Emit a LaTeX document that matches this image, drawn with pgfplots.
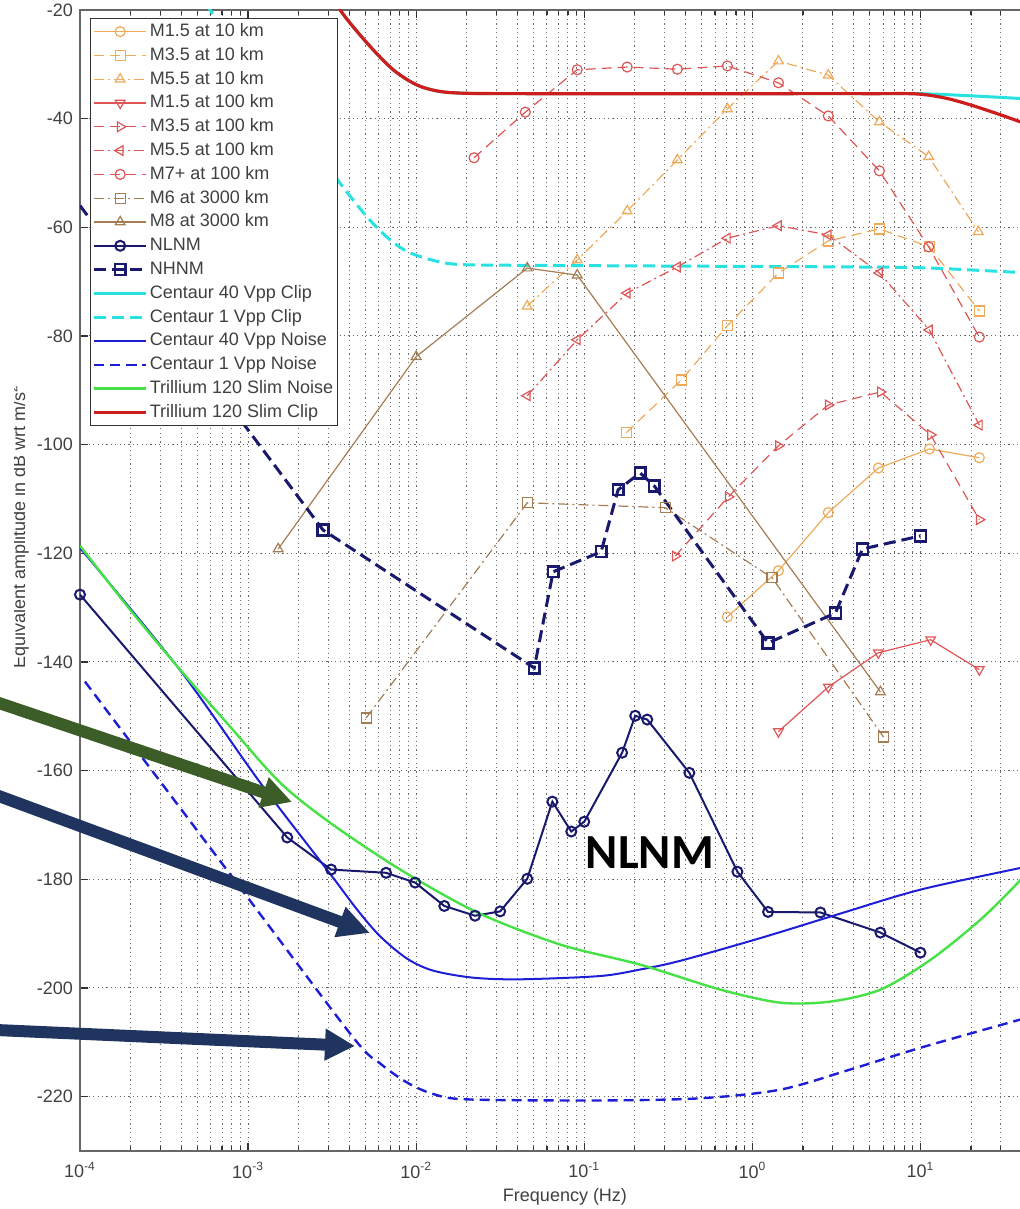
\documentclass[border=0pt]{standalone}
\usepackage{pgfplots}
\pgfplotsset{compat=1.18}
\usetikzlibrary{arrows.meta}
\usepackage{fontspec}
\setmainfont{Liberation Sans}
\newfontfamily\calibri{Carlito}
\definecolor{orng}{RGB}{238,170,90}
\definecolor{rd}{RGB}{222,85,85}
\definecolor{brn}{RGB}{165,125,85}
\definecolor{navy}{RGB}{25,25,110}
\definecolor{cyn}{RGB}{40,225,225}
\definecolor{blu}{RGB}{30,30,215}
\definecolor{grn}{RGB}{70,225,70}
\definecolor{rdclip}{RGB}{205,30,30}
\definecolor{arrgreen}{RGB}{60,92,40}
\definecolor{arrnavy}{RGB}{31,52,95}
\begin{document}
\begin{tikzpicture}
\clip (0,0) rectangle (510pt,604.5pt);
\begin{axis}[
  at={(40pt,29pt)}, anchor=south west,
  scale only axis, width=485pt, height=570.5pt,
  xmode=log, xmin=1e-4, xmax=59, ymin=-230, ymax=-20,
  xtick={1e-4,1e-3,1e-2,1e-1,1,10},
  xticklabels={10\textsuperscript{-4},10\textsuperscript{-3},10\textsuperscript{-2},10\textsuperscript{-1},10\textsuperscript{0},10\textsuperscript{1}},
  minor xtick={2e-4,3e-4,4e-4,5e-4,6e-4,7e-4,8e-4,9e-4,2e-3,3e-3,4e-3,5e-3,6e-3,7e-3,8e-3,9e-3,0.02,0.03,0.04,0.05,0.06,0.07,0.08,0.09,0.2,0.3,0.4,0.5,0.6,0.7,0.8,0.9,2,3,4,5,6,7,8,9,20,30,40,50},
  ytick={-220,-200,...,-20},
  yticklabels={-220,-200,-180,-160,-140,-120,-100,-80,-60,-40,-20},
  xmajorgrids, xminorgrids, ymajorgrids,
  major grid style={dash pattern=on 0.6pt off 1.6pt, black!60, line width=0.5pt},
  minor grid style={dash pattern=on 0.6pt off 1.6pt, black!55, line width=0.5pt},
  tick align=inside, major tick length=4pt, minor tick length=2.5pt,
  axis line style={black!60, line width=0.9pt},
  every tick/.style={black!80, line width=0.6pt},
  ticklabel style={font=\fontsize{9}{10}\selectfont, text=black!75},
  xticklabel style={yshift=-2pt},
  xlabel={Frequency (Hz)},
  xlabel style={at={(axis description cs:0.5,0)}, anchor=center, yshift=-23pt, font=\fontsize{9}{10}\selectfont, text=black!75},
  legend style={at={(0.0103,0.993)}, anchor=north west, draw=black!80, line width=0.6pt, fill=white,
    font=\fontsize{9}{10}\selectfont, text=black!75, inner sep=1pt, row sep=0.9pt,
    cells={anchor=west}, nodes={inner sep=1pt, text height=7pt, text depth=2pt}},
  legend image code/.code={\draw[mark repeat=2,mark phase=2,#1] plot coordinates {(0pt,0pt) (13pt,0pt) (26pt,0pt)};},
]
% --- 10 km (orange)
\addplot[orng, line width=0.6pt, mark=o, mark size=2.5pt] coordinates {
(0.71,-131.7) (1.43,-123.2) (2.83,-112.5) (5.62,-104.3) (11.3,-100.8) (22.4,-102.4)};
\addlegendentry{M1.5 at 10 km}
\addplot[orng, line width=0.6pt, dash pattern=on 5pt off 3pt, mark=square, mark size=2.5pt, mark options={solid}] coordinates {
(0.178,-97.8) (0.378,-88.1) (0.71,-78.1) (1.43,-68.4) (2.83,-62.5) (5.7,-60.3) (11.3,-63.6) (22.4,-75.4)};
\addlegendentry{M3.5 at 10 km}
\addplot[orng, line width=0.6pt, dash pattern=on 5pt off 2pt on 1pt off 2pt, mark=triangle, mark size=2.8pt, mark options={solid}] coordinates {
(0.0458,-74.5) (0.0908,-66.0) (0.18,-57.0) (0.358,-47.6) (0.71,-38.2) (1.43,-29.4) (2.83,-32.0) (5.7,-40.6) (11.2,-47.0) (22.1,-60.8)};
\addlegendentry{M5.5 at 10 km}
% --- 100 km (red)
\addplot[rd, line width=0.6pt, mark=triangle, mark size=2.8pt, mark options={rotate=180}] coordinates {
(1.43,-152.8) (2.83,-144.6) (5.62,-138.3) (11.5,-135.9) (22.4,-141.4)};
\addlegendentry{M1.5 at 100 km}
\addplot[rd, line width=0.6pt, dash pattern=on 5pt off 3pt, mark=triangle, mark size=2.8pt, mark options={solid, rotate=-90}] coordinates {
(0.348,-120.5) (0.72,-109.6) (1.43,-100.2) (2.83,-92.7) (5.78,-90.3) (11.5,-98.2) (22.4,-113.8)};
\addlegendentry{M3.5 at 100 km}
\addplot[rd, line width=0.6pt, dash pattern=on 5pt off 2pt on 1pt off 2pt, mark=triangle, mark size=2.8pt, mark options={solid, rotate=90}] coordinates {
(0.0458,-91.0) (0.0908,-80.7) (0.18,-72.1) (0.358,-67.3) (0.71,-62.0) (1.43,-59.7) (2.83,-61.4) (5.7,-68.4) (11.3,-78.9) (22.4,-96.4)};
\addlegendentry{M5.5 at 100 km}
\addplot[rd, line width=0.6pt, dash pattern=on 5pt off 3pt, mark=o, mark size=2.5pt, mark options={solid}] coordinates {
(0.0221,-47.2) (0.0446,-38.8) (0.0908,-31.0) (0.18,-30.5) (0.358,-30.9) (0.71,-30.3) (1.43,-33.4) (2.83,-39.5) (5.7,-49.6) (11.2,-63.6) (22.4,-80.2)};
\addlegendentry{M7+ at 100 km}
% --- 3000 km (brown)
\addplot[brn, line width=0.6pt, dash pattern=on 5pt off 2pt on 1pt off 2pt, mark=square, mark size=2.5pt, mark options={solid}] coordinates {
(5.04e-3,-150.3) (0.0458,-110.7) (0.303,-111.6) (1.31,-124.5) (6.03,-153.8)};
\addlegendentry{M6 at 3000 km}
\addplot[brn, line width=0.6pt, mark=triangle, mark size=2.8pt] coordinates {
(1.51e-3,-119.2) (0.01,-83.8) (0.0458,-67.5) (0.0908,-68.8) (5.78,-145.5)};
\addlegendentry{M8 at 3000 km}
% --- noise models
\addplot[navy, line width=1pt, mark=o, mark size=2.5pt] coordinates {
(1e-4,-127.6) (1.71e-3,-172.3) (3.12e-3,-178.2) (6.62e-3,-178.8) (9.86e-3,-180.6) (1.47e-2,-184.9) (2.24e-2,-186.7) (3.16e-2,-185.9) (4.58e-2,-179.9) (6.46e-2,-165.7) (8.37e-2,-171.2) (0.1,-169.4) (0.168,-156.7) (0.201,-149.9) (0.237,-150.6) (0.422,-160.4) (0.815,-178.6) (1.24,-186.0) (2.54,-186.1) (5.78,-189.8) (10,-193.5)};
\addlegendentry{NLNM}
\addplot[navy, line width=1.5pt, dash pattern=on 6pt off 3pt, mark=square, mark size=2.7pt, mark phase=2, mark options={solid, line width=1.2pt}] coordinates {
(1e-4,-56) (2.79e-3,-115.7) (5.04e-2,-141.1) (6.53e-2,-123.4) (0.126,-119.7) (0.159,-108.3) (0.215,-105.2) (0.261,-107.6) (1.24,-136.5) (3.12,-131.0) (4.52,-119.2) (10,-116.8)};
\addlegendentry{NHNM}
% --- Centaur clip
\addplot[cyn, line width=1.5pt, smooth] coordinates {
(2.79e-3,-14) (3.53e-3,-20) (5.11e-3,-26.1) (7.3e-3,-31.0) (1.01e-2,-33.8) (1.39e-2,-35.0) (2.09e-2,-35.35) (0.05,-35.4) (0.2,-35.4) (1,-35.4) (5,-35.4) (10,-35.4) (20,-35.8) (39.4,-36.3) (50,-36.6)};
\addlegendentry{Centaur 40 Vpp Clip}
\addplot[cyn, line width=1.5pt, dash pattern=on 6pt off 3pt, smooth] coordinates {
(5.0e-4,-16) (5.94e-4,-20) (1.26e-3,-33) (3.30e-3,-50.7) (5.11e-3,-58.1) (7.0e-3,-62.3) (9.2e-3,-64.7) (1.39e-2,-66.4) (2.01e-2,-66.9) (0.05,-67.0) (0.2,-67.1) (1,-67.2) (4,-67.3) (11.5,-67.5) (50,-68.5)};
\addlegendentry{Centaur 1 Vpp Clip}
% --- Centaur noise
\addplot[blu, line width=1pt, smooth] coordinates {
(1e-4,-119) (3.94e-4,-141.5) (1.18e-3,-162.2) (3.08e-3,-179.0) (4.46e-3,-185.6) (6.11e-3,-190.5) (8.83e-3,-194.6) (1.26e-2,-196.8) (2.18e-2,-198.1) (4.16e-2,-198.4) (0.124,-197.8) (0.215,-196.6) (0.372,-195.0) (1.12,-190.8) (3.34,-186.3) (10,-181.9) (39.4,-177.9) (50,-177.2)};
\addlegendentry{Centaur 40 Vpp Noise}
\addplot[blu, line width=1.2pt, dash pattern=on 5pt off 3pt, smooth] coordinates {
(1.07e-4,-143.6) (9.86e-4,-183.2) (4.22e-3,-209.1) (6.11e-3,-213.9) (8.83e-3,-217.4) (1.26e-2,-219.5) (2.01e-2,-220.5) (0.124,-220.7) (0.49,-220.3) (1.47,-218.7) (3.83,-215.0) (10,-211.0) (39.4,-205.8) (50,-205)};
\addlegendentry{Centaur 1 Vpp Noise}
% --- Trillium
\addplot[grn, line width=1.2pt, smooth] coordinates {
(1e-4,-118.6) (1.99e-4,-130.4) (3.94e-4,-141.4) (7.82e-4,-151.9) (1.55e-3,-162.2) (3.08e-3,-169.6) (8.04e-3,-178.2) (2.31e-2,-186.1) (7.19e-2,-192.0) (0.215,-195.7) (0.646,-200.3) (1.47,-202.7) (2.91,-202.5) (5.78,-200.3) (11.5,-194.8) (22.8,-187.4) (39.4,-180.1) (50,-176)};
\addlegendentry{Trillium 120 Slim Noise}
\addplot[rdclip, line width=1.6pt, smooth] coordinates {
(2.79e-3,-14) (3.53e-3,-20) (5.11e-3,-26.1) (7.3e-3,-31.0) (1.01e-2,-33.8) (1.39e-2,-35.0) (2.09e-2,-35.35) (0.05,-35.4) (0.2,-35.4) (1,-35.4) (5,-35.4) (9.5,-35.45) (14,-36.2) (20,-37.5) (30,-39.3) (39.4,-40.6) (50,-41.7)};
\addlegendentry{Trillium 120 Slim Clip}
\end{axis}
% y label (cut at the left edge, as in the reference)
\node[rotate=90, font=\fontsize{9}{10}\selectfont, text=black!75] at (9.5pt,341pt) {Equivalent amplitude in dB wrt m/s\textsuperscript{2}};
\fill[white] (0,0) rectangle (7pt,604.5pt);
% annotations
\draw[arrgreen, line width=6pt, -{Triangle[length=15pt,width=15pt]}] (-2pt,253.5pt) -- (146pt,203.5pt);
\draw[arrnavy, line width=6pt, -{Triangle[length=16pt,width=15pt]}] (-2pt,207pt) -- (185pt,138pt);
\draw[arrnavy, line width=6pt, -{Triangle[length=15pt,width=15pt]}] (-2pt,89.5pt) -- (177.5pt,81.5pt);
\node[font=\calibri\bfseries\fontsize{24.5}{28}\selectfont] at (325pt,178pt) {NLNM};
\end{tikzpicture}
\end{document}
